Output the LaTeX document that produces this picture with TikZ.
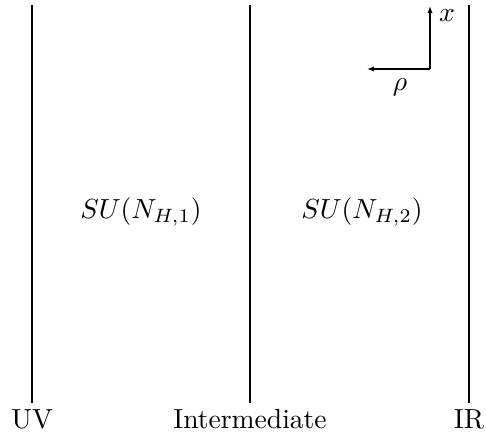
\documentclass[tikz,border=0pt]{standalone}
\usetikzlibrary{arrows.meta}
\begin{document}
\begin{tikzpicture}[x=0.5pt,y=-0.5pt,
  wall/.style={line width=0.55pt},
  lbl/.style={anchor=base,inner sep=0pt},
  axis/.style={line width=0.55pt,-{Latex[length=3.5pt,width=2.6pt]}}]
\newcommand{\bigtxt}[1]{\scalebox{1.38}{#1}}
\useasboundingbox (0,0) rectangle (486,440);
\coordinate (uvt) at (32,5);   \coordinate (uvb) at (32,403);
\coordinate (imt) at (250,5);  \coordinate (imb) at (250,403);
\coordinate (irt) at (469,5);  \coordinate (irb) at (469,403);
\draw[wall] (uvt) -- (uvb);
\draw[wall] (imt) -- (imb);
\draw[wall] (irt) -- (irb);
\node[lbl] (uv) at (32,428) {\bigtxt{UV}};
\node[lbl] (im) at (250,428) {\bigtxt{Intermediate}};
\node[lbl] (ir) at (469,428) {\bigtxt{IR}};
\node[lbl] (su1) at (141,218) {\bigtxt{$SU(N_{H,1})$}};
\node[lbl] (su2) at (362,218) {\bigtxt{$SU(N_{H,2})$}};
\coordinate (o) at (430,69);
\coordinate (xe) at (430,6);
\coordinate (re) at (367,69);
\draw[axis] (o) -- (xe);
\draw[axis] (o) -- (re);
\node[lbl] (xl) at (447,21) {\bigtxt{$x$}};
\node[lbl] (rl) at (400,90) {\bigtxt{$\rho$}};
\end{tikzpicture}
\end{document}
